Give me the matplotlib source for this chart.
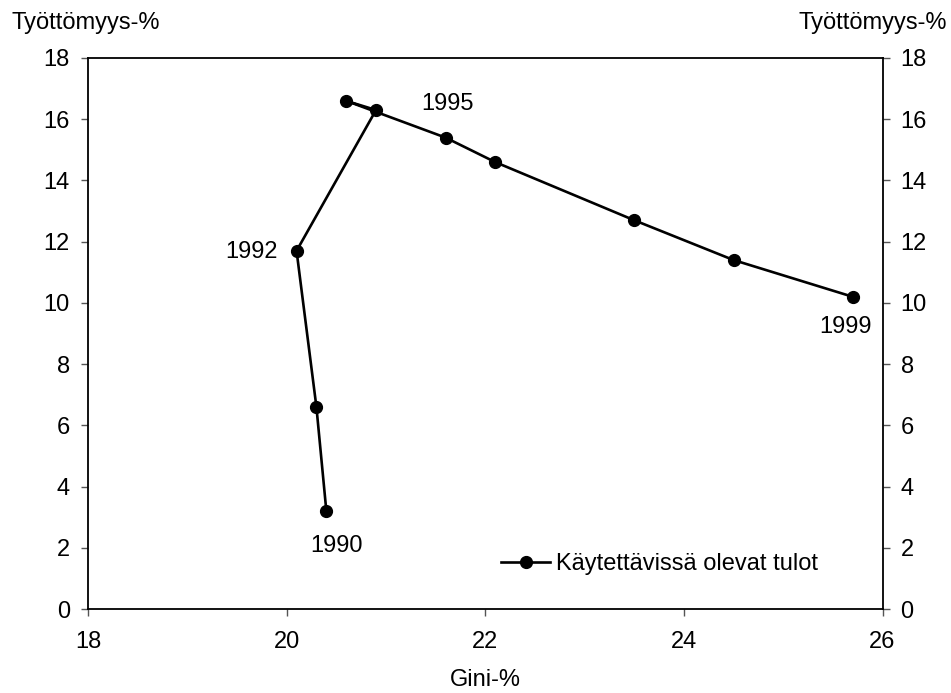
import matplotlib
matplotlib.use("Agg")
import matplotlib.pyplot as plt

plt.rcParams['font.family'] = ['Liberation Sans', 'DejaVu Sans']

years = [1990, 1991, 1992, 1993, 1994, 1995, 1996, 1997, 1998, 1999]
gini = [20.4, 20.3, 20.1, 20.9, 20.6, 21.6, 22.1, 23.5, 24.5, 25.7]
unemployment = [3.2, 6.6, 11.7, 16.3, 16.6, 15.4, 14.6, 12.7, 11.4, 10.2]
series_name = "Käytettävissä olevat tulot"
x_ticks = [18, 20, 22, 24, 26]
y_ticks = [0, 2, 4, 6, 8, 10, 12, 14, 16, 18]

W, H = 951, 693
fig = plt.figure(figsize=(W/100, H/100), dpi=100)
ax = fig.add_axes([88/W, 1-609/H, (882.5-88)/W, (609-58)/H])

FS = 17
ax.plot(gini, unemployment, color='black', lw=1.9, marker='o', ms=8.5, label=series_name)

ax.set_xlim(18, 26)
ax.set_ylim(0, 18)
ax.set_xticks(x_ticks)
ax.set_yticks(y_ticks)
ax.tick_params(axis='both', labelsize=FS, length=5, width=1, color='#555555',
               direction='out')
ax.tick_params(axis='x', pad=11)
ax.tick_params(axis='y', pad=8, right=True, labelright=True)
for s in ax.spines.values():
    s.set_linewidth(1.3)
    s.set_color('black')

ax.set_xlabel("Gini-%", fontsize=FS)
ax.xaxis.set_label_coords(0.5, -(686-609)/551)
ax.xaxis.label.set_va('baseline')
fig.text(12/W, 1-29/H, "Työttömyys-%", fontsize=FS, ha='left', va='baseline')
fig.text(947/W, 1-29/H, "Työttömyys-%", fontsize=FS, ha='right', va='baseline')

# label offsets in pixels (dx, dy) relative to the data point
labels = {1990: (10, -35, 'center'), 1992: (-19, -1, 'right'),
          1995: (2, 34, 'center'), 1999: (-7, -30, 'center')}
for yr, (dx, dy, ha) in labels.items():
    i = years.index(yr)
    ax.annotate(str(yr), (gini[i], unemployment[i]), xytext=(dx*0.72, dy*0.72),
                textcoords='offset points', ha=ha, va='center', fontsize=FS)

ax.legend(loc='center right', bbox_to_anchor=((818-88)/794.5, (609-564)/551),
          frameon=False, fontsize=FS, handlelength=2.08, handletextpad=0.25,
          borderaxespad=0, borderpad=0)

fig.savefig("out.png", dpi=100)
